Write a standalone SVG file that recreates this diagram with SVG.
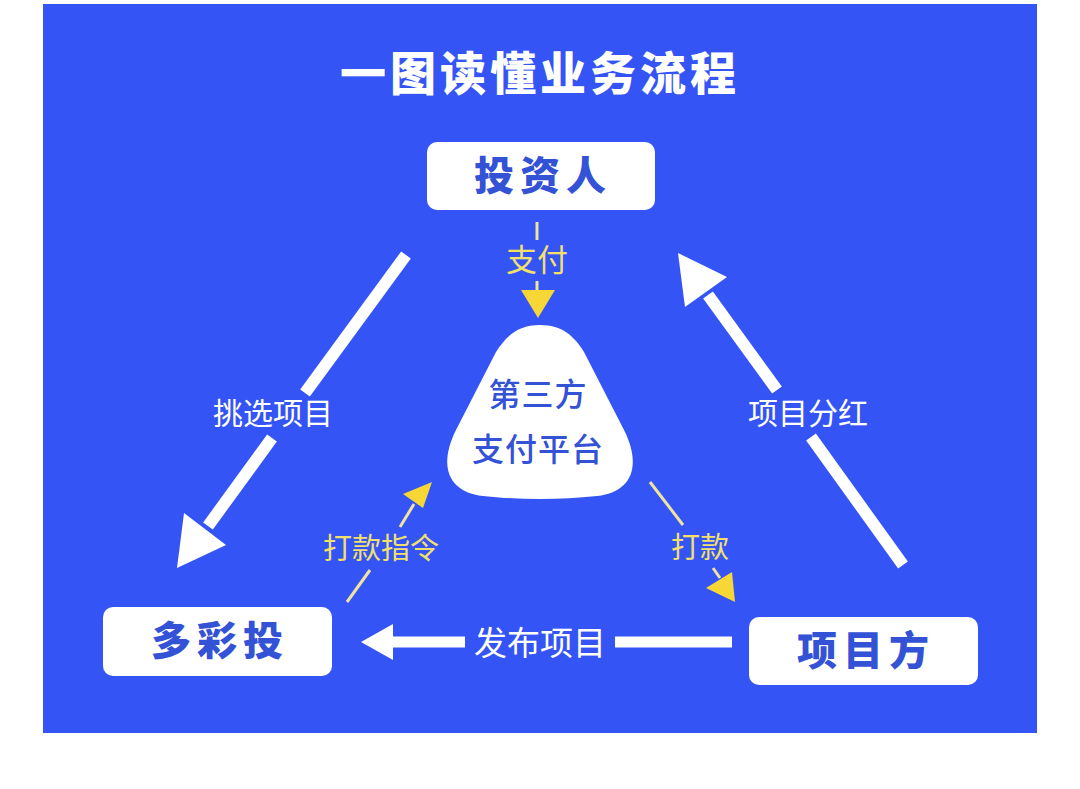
<svg xmlns="http://www.w3.org/2000/svg" width="1080" height="789" viewBox="0 0 1080 789">
<style>
.cjk{font-family:"Noto Sans CJK SC","Noto Sans",sans-serif;text-anchor:middle}
.title{font-size:46px;font-weight:900;fill:#ffffff;letter-spacing:4px}
.node{fill:#ffffff}
.nlabel{font-size:40px;font-weight:900;fill:#3352d6;letter-spacing:6px}
.tlabel{font-size:32px;font-weight:500;fill:#3352d6;letter-spacing:1px}
.wlabel{font-size:30px;fill:#ffffff}
.ylabel{font-size:29px;fill:#f3e06a}
.wline{stroke:#ffffff;stroke-width:12;fill:none}
.yline{stroke:#efe3a0;stroke-width:3;fill:none}
.whead{fill:#ffffff}
.yhead{fill:#f6d735}
</style>
<rect x="0" y="0" width="1080" height="789" fill="#ffffff"/>
<rect x="43" y="4" width="994" height="729" fill="#3454f5"/>
<text class="cjk title" x="540" y="90">一图读懂业务流程</text>

<g id="connectors">
  <!-- 投资人 -> 多彩投 (挑选项目) -->
  <line class="wline" x1="406" y1="255" x2="305" y2="393"/>
  <line class="wline" x1="272" y1="438" x2="208" y2="526"/>
  <polygon class="whead" points="177,568 226,545 184,513"/>
  <!-- 项目方 -> 投资人 (项目分红) -->
  <line class="wline" x1="903" y1="565" x2="811" y2="437"/>
  <line class="wline" x1="777" y1="390" x2="708" y2="295"/>
  <polygon class="whead" points="678,253 727,277 685,307"/>
  <!-- 项目方 -> 多彩投 (发布项目) -->
  <line stroke="#ffffff" stroke-width="11" x1="392" y1="642" x2="465" y2="642"/>
  <line stroke="#ffffff" stroke-width="11" x1="615" y1="642" x2="732" y2="642"/>
  <polygon class="whead" points="361,642 393,624 393,660"/>
  <!-- 投资人 -> 第三方 (支付) -->
  <line class="yline" x1="537" y1="222" x2="537" y2="240"/>
  <line class="yline" x1="537" y1="281" x2="537" y2="292"/>
  <polygon class="yhead" points="521,290 555,290 538,318"/>
  <!-- 多彩投 -> 第三方 (打款指令) -->
  <line class="yline" x1="347" y1="602" x2="370" y2="570"/>
  <line class="yline" x1="400" y1="527" x2="414" y2="504"/>
  <polygon class="yhead" points="432,482 403,494 423,508"/>
  <!-- 第三方 -> 项目方 (打款) -->
  <line class="yline" x1="650" y1="482" x2="683" y2="525"/>
  <line class="yline" x1="713" y1="568" x2="720" y2="578"/>
  <polygon class="yhead" points="735,602 706,588 732,572"/>
  <text class="cjk wlabel" x="273" y="424">挑选项目</text>
  <text class="cjk wlabel" x="808" y="424">项目分红</text>
  <text class="cjk wlabel" x="540" y="655" style="font-size:33px">发布项目</text>
  <text class="cjk ylabel" x="537" y="271" style="font-size:31px">支付</text>
  <text class="cjk ylabel" x="381" y="559">打款指令</text>
  <text class="cjk ylabel" x="700" y="558">打款</text>
</g>

<g id="investor">
  <rect class="node" x="427" y="142" width="228" height="68" rx="10"/>
  <text class="cjk nlabel" x="543" y="190">投资人</text>
</g>
<g id="duocaitou">
  <rect class="node" x="103" y="607" width="229" height="69" rx="10"/>
  <text class="cjk nlabel" x="220" y="655">多彩投</text>
</g>
<g id="project">
  <rect class="node" x="749" y="617" width="229" height="68" rx="10"/>
  <text class="cjk nlabel" x="866" y="665">项目方</text>
</g>
<g id="payment">
  <path class="node" d="M 540 325 C 562 325 574 336 584 352 L 624 430 C 642 466 632 492 597 496 C 560 500 520 500 483 496 C 448 492 438 466 456 430 L 496 352 C 506 336 518 325 540 325 Z"/>
  <text class="cjk tlabel" x="538" y="406">第三方</text>
  <text class="cjk tlabel" x="538" y="461">支付平台</text>
</g>
</svg>
